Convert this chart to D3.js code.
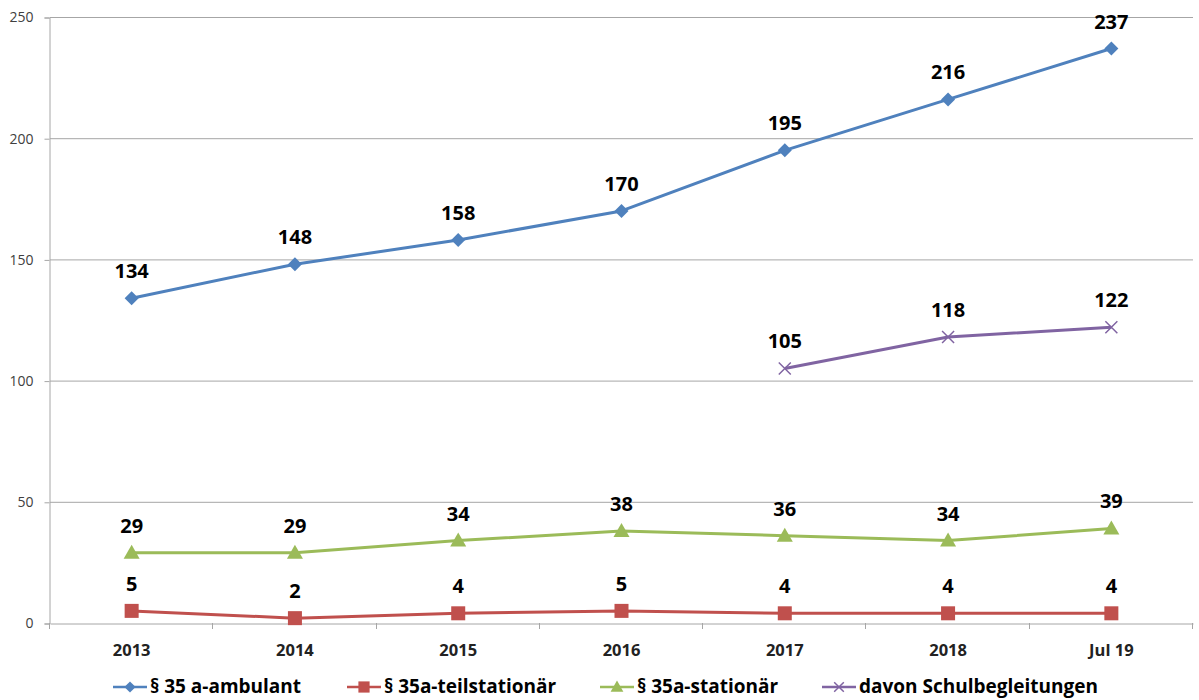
<!DOCTYPE html>
<html>
<head>
<meta charset="utf-8">
<script src="https://cdn.jsdelivr.net/npm/d3@7"></script>
<style>
  body { margin: 0; background: #fff; }
  text { font-family: "Open Sans", "Noto Sans", sans-serif; }
</style>
</head>
<body>
<div id="chart"></div>
<script>
// Categories and series
var categories = ["2013", "2014", "2015", "2016", "2017", "2018", "Jul 19"];
var ambulant = [134, 148, 158, 170, 195, 216, 237];
var teilstationaer = [5, 2, 4, 5, 4, 4, 4];
var stationaer = [29, 29, 34, 38, 36, 34, 39];
var schulbegleitung = [null, null, null, null, 105, 118, 122];
var yTicks = [0, 50, 100, 150, 200, 250];

var series = [
  { name: "§ 35 a-ambulant", values: ambulant, color: "#4F81BD", marker: "diamond" },
  { name: "§ 35a-teilstationär", values: teilstationaer, color: "#C0504D", marker: "square" },
  { name: "§ 35a-stationär", values: stationaer, color: "#9BBB59", marker: "triangle" },
  { name: "davon Schulbegleitungen", values: schulbegleitung, color: "#8064A2", marker: "x" }
];

var width = 1199, height = 700;
var margin = { left: 50, right: 6, top: 17, bottom: 77 };

var svg = d3.select("#chart")
  .append("svg")
  .attr("width", width)
  .attr("height", height);

var x = d3.scaleBand()
  .domain(categories)
  .range([margin.left, width - margin.right]);

var y = d3.scaleLinear()
  .domain([0, 250])
  .range([height - margin.bottom, margin.top]);

// Gridlines
svg.append("g")
  .selectAll("line")
  .data(yTicks.filter(function (d) { return d > 0; }))
  .enter()
  .append("line")
  .attr("x1", margin.left)
  .attr("x2", width - margin.right)
  .attr("y1", function (d) { return y(d) + 0.5; })
  .attr("y2", function (d) { return y(d) + 0.5; })
  .attr("stroke", "#a6a6a6")
  .attr("stroke-width", 1);

// Y axis
var yAxis = svg.append("g")
  .attr("transform", "translate(" + (margin.left - 0.5) + ",0.5)")
  .call(d3.axisLeft(y).tickValues(yTicks).tickSize(5).tickPadding(11));
yAxis.select(".domain").attr("stroke", "#a6a6a6");
yAxis.selectAll(".tick line").attr("stroke", "#a6a6a6");
yAxis.selectAll(".tick text")
  .attr("font-size", 14)
  .attr("fill", "#404040");

// X axis
var xAxis = svg.append("g")
  .attr("transform", "translate(0," + (y(0) + 0.5) + ")")
  .call(d3.axisBottom(x).tickSize(0).tickPadding(21));
xAxis.select(".domain").attr("stroke", "#a6a6a6");
xAxis.selectAll(".tick text")
  .attr("font-size", 16.5)
  .attr("font-weight", "bold")
  .attr("fill", "#222");

// x tick marks at category boundaries
var bounds = categories.map(function (c) { return x(c); }).concat([x.range()[1]]);
svg.append("g")
  .selectAll("line")
  .data(bounds)
  .enter()
  .append("line")
  .attr("x1", function (d) { return Math.round(d) - 0.5; })
  .attr("x2", function (d) { return Math.round(d) - 0.5; })
  .attr("y1", y(0))
  .attr("y2", y(0) + 6)
  .attr("stroke", "#a6a6a6");

function cx(i) { return x(categories[i]) + x.bandwidth() / 2; }

function drawMarker(g, type, color, k) {
  k = k || 1;
  if (type === "diamond") {
    g.append("path").attr("d", "M0,-7L7,0L0,7L-7,0Z").attr("fill", color);
  } else if (type === "square") {
    g.append("rect").attr("x", -7).attr("y", -7).attr("width", 14).attr("height", 14).attr("fill", color);
  } else if (type === "triangle") {
    g.append("path").attr("d", "M0,-8L8,6L-8,6Z").attr("fill", color);
  } else if (type === "x") {
    g.append("path").attr("d", "M-6,-6L6,6M-6,6L6,-6").attr("stroke", color).attr("stroke-width", 1.5 / k);
  }
  g.attr("transform", (g.attr("transform") || "") + " scale(" + k + ")");
}

var line = d3.line()
  .defined(function (d) { return d != null; })
  .x(function (d, i) { return cx(i); })
  .y(function (d) { return y(d); });

series.forEach(function (s) {
  svg.append("path")
    .datum(s.values)
    .attr("fill", "none")
    .attr("stroke", s.color)
    .attr("stroke-width", 3)
    .attr("stroke-linejoin", "round")
    .attr("d", line);

  s.values.forEach(function (v, i) {
    if (v == null) return;
    var g = svg.append("g").attr("transform", "translate(" + cx(i) + "," + y(v) + ")");
    drawMarker(g, s.marker, s.color);
    svg.append("text")
      .attr("x", cx(i))
      .attr("y", y(v) - 20)
      .attr("text-anchor", "middle")
      .attr("font-size", 20)
      .attr("font-weight", "bold")
      .attr("fill", "#000")
      .text(v);
  });
});

// Legend
var legendX = [113, 347, 600, 822];
series.forEach(function (s, i) {
  var g = svg.append("g").attr("transform", "translate(" + legendX[i] + ",687)");
  g.append("line")
    .attr("x1", 0).attr("x2", 34)
    .attr("stroke", s.color).attr("stroke-width", 2.5);
  var m = g.append("g").attr("transform", "translate(17,0)");
  drawMarker(m, s.marker, s.color, 0.8);
  g.append("text")
    .attr("x", 37)
    .attr("y", 6)
    .attr("font-size", 19)
    .attr("font-weight", "bold")
    .attr("fill", "#000")
    .text(s.name);
});
</script>
</body>
</html>
